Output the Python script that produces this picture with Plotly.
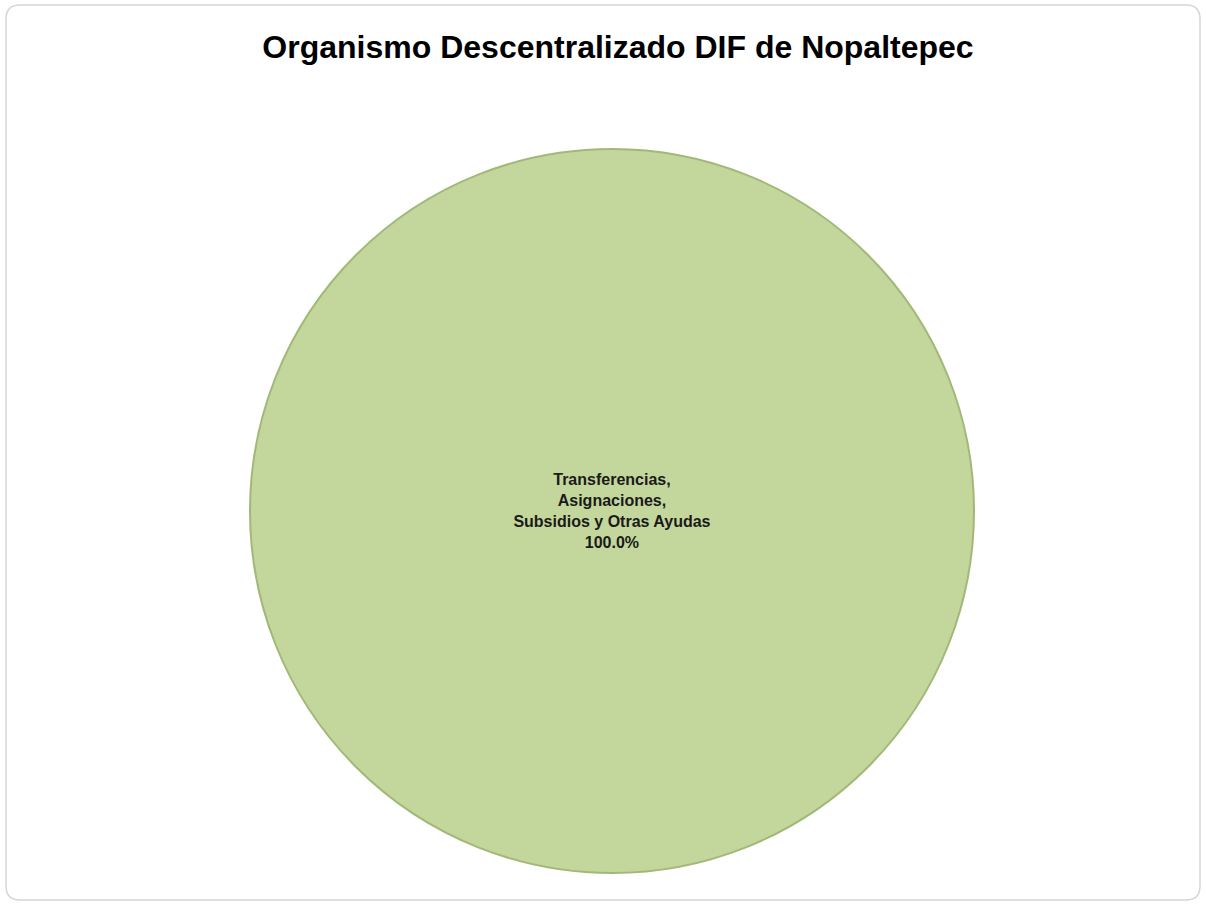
import plotly.graph_objects as go

categories = ["Transferencias,<br>Asignaciones,<br>Subsidios y Otras Ayudas"]
values = [100.0]
colors = ["#C3D69B"]

W, H = 1206, 907
cx, cy, r = 612, 511, 362

fig = go.Figure(go.Pie(
    labels=categories,
    values=values,
    marker=dict(colors=colors, line=dict(color="#A3B878", width=2)),
    textinfo="label+percent",
    texttemplate="<b>%{label}<br>%{percent:.1%}</b>",
    textposition="inside",
    insidetextorientation="horizontal",
    textfont=dict(family="Liberation Sans, Arial", size=16, color="#1a1a1a"),
    sort=False,
    showlegend=False,
    hoverinfo="label+percent",
    domain=dict(x=[(cx - r) / W, (cx + r) / W], y=[(H - cy - r) / H, (H - cy + r) / H]),
))

# rounded chart border
x0, y0, x1, y1 = 6 / W, 1 - 5 / H, 1200 / W, 1 - 900 / H
rx, ry = 14 / W, 14 / H
path = (f"M {x0+rx},{y0} L {x1-rx},{y0} Q {x1},{y0} {x1},{y0-ry} "
        f"L {x1},{y1+ry} Q {x1},{y1} {x1-rx},{y1} L {x0+rx},{y1} "
        f"Q {x0},{y1} {x0},{y1+ry} L {x0},{y0-ry} Q {x0},{y0} {x0+rx},{y0} Z")

fig.update_layout(
    width=W, height=H,
    margin=dict(l=0, r=0, t=0, b=0),
    paper_bgcolor="white",
    plot_bgcolor="white",
    title=dict(
        text="<b>Organismo Descentralizado DIF de Nopaltepec</b>",
        x=618 / W, xanchor="center", y=1 - 47 / H, yanchor="middle",
        xref="paper", yref="paper",
        font=dict(family="Liberation Sans, Arial", size=32, color="black"),
    ),
    shapes=[dict(type="path", path=path, xref="paper", yref="paper",
                 line=dict(color="#D6D6D6", width=1.5), fillcolor="rgba(0,0,0,0)", layer="below")],
)

fig.write_html("out.html", config={"displayModeBar": False},
               post_script="document.body.style.margin='0px';")
